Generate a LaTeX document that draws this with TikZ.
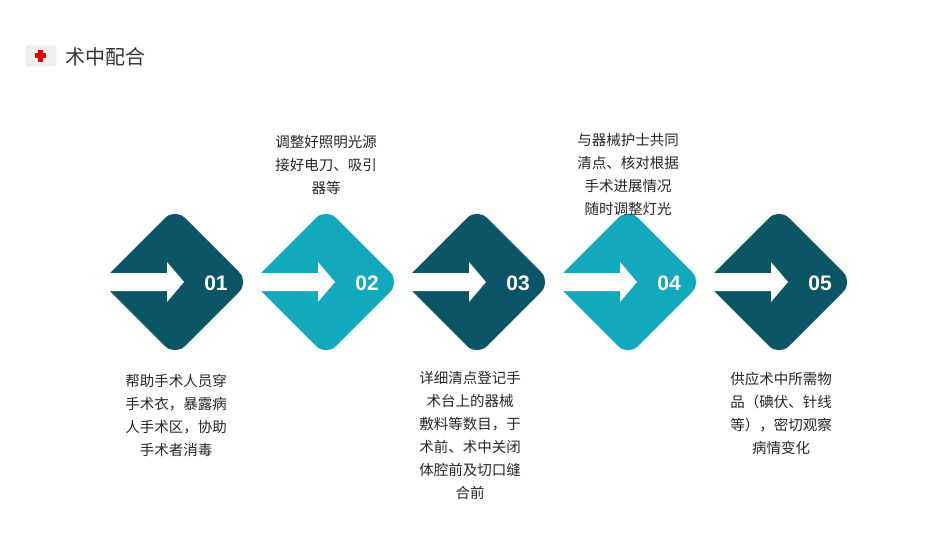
\documentclass[tikz,border=0pt]{standalone}
\usepackage{fontspec}
\setmainfont{Noto Sans CJK SC}
\setsansfont{Liberation Sans}
\begin{document}
\begin{tikzpicture}[x=1pt,y=-1pt,
  dk/.style={fill={rgb,255:red,12;green,85;blue,102}},
  lt/.style={fill={rgb,255:red,18;green,169;blue,188}},
  txt/.style={align=center,font=\fontsize{14.5}{23}\selectfont,text=black!85},
  num/.style={font=\sffamily\bfseries\fontsize{21}{21}\selectfont,text=white}]
\useasboundingbox (0,0) rectangle (950,535);
\node[font=\fontsize{20}{20}\selectfont,text=black!80,anchor=west] (title) at (62,57) {术中配合};
\fill[rounded corners=3,fill=black!6,draw=black!15] (26,46) rectangle (56,66);
\fill[red!90!black] (38,50) rectangle (43,62);
\fill[red!90!black] (35,53.5) rectangle (46,58.5);
\foreach \i/\c/\s in {1/175/dk,2/326/lt,3/477/dk,4/628/lt,5/779/dk}{
  \fill[\s] (\c-71,279) -- (\c-64,272) [rounded corners=14] -- (\c,208) -- (\c+74,282) -- (\c,356) [sharp corners] -- (\c-64,292) -- (\c-71,285) -- cycle;
  \fill[white] (\c-72,273) -- (\c-8,273) -- (\c-8,262) -- (\c+9,282) -- (\c-8,302) -- (\c-8,291) -- (\c-72,291) -- cycle;
  \node[num] (n\i) at (\c+41,283) {0\i};
}
\node[txt] (t2) at (326,165) {调整好照明光源\\接好电刀、吸引\\器等};
\node[txt] (t4) at (628,174) {与器械护士共同\\清点、核对根据\\手术进展情况\\随时调整灯光};
\node[txt] (t1) at (176,415) {帮助手术人员穿\\手术衣，暴露病\\人手术区，协助\\手术者消毒};
\node[txt] (t3) at (470,435) {详细清点登记手\\术台上的器械\\敷料等数目，于\\术前、术中关闭\\体腔前及切口缝\\合前};
\node[txt] (t5) at (781,413) {供应术中所需物\\品（碘伏、针线\\等），密切观察\\病情变化};
\end{tikzpicture}
\end{document}
